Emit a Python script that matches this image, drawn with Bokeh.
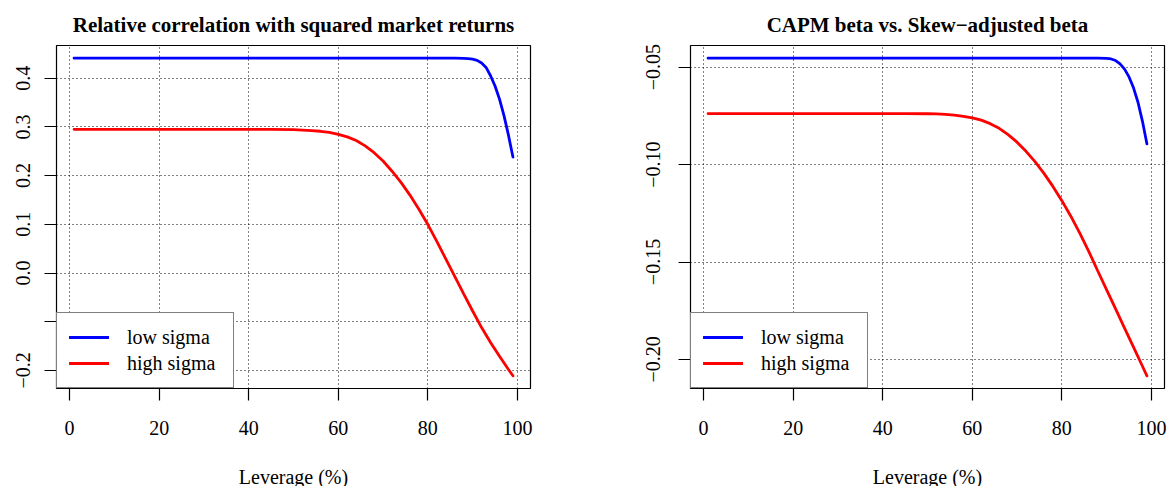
import math
from bokeh.plotting import figure
from bokeh.layouts import row
from bokeh.models import Legend, LegendItem, FixedTicker, Range1d
from bokeh.embed import file_html
from bokeh.resources import INLINE

# Leverage grid (%) and curve values for the two volatility regimes
lev_corr_low = [1, 20, 40, 60, 80, 86, 88, 89, 90, 91, 92, 93, 94, 95, 96, 97, 98, 99]
corr_low = [0.441, 0.441, 0.441, 0.441, 0.441, 0.441, 0.4408, 0.4402, 0.439, 0.4365,
            0.431, 0.422, 0.405, 0.384, 0.357, 0.323, 0.283, 0.238]

lev_corr_high = [1, 20, 40, 45, 50, 52, 54, 56, 58, 60, 62, 64, 66, 68, 70, 72, 74, 76,
                 78, 80, 82, 84, 86, 88, 90, 92, 94, 96, 98, 99]
corr_high = [0.295, 0.295, 0.295, 0.2948, 0.2942, 0.2935, 0.2925, 0.291, 0.2885, 0.2848,
             0.2795, 0.272, 0.261, 0.247, 0.230, 0.209, 0.186, 0.160, 0.131, 0.0995,
             0.065, 0.029, -0.007, -0.043, -0.078, -0.112, -0.1425, -0.171, -0.198, -0.211]

lev_beta_low = [1, 20, 40, 60, 80, 88, 90, 91, 92, 93, 94, 95, 96, 97, 98, 99]
beta_low = [-0.0454, -0.0454, -0.0454, -0.0454, -0.0454, -0.0454, -0.0455, -0.0458,
            -0.0466, -0.0483, -0.0510, -0.0550, -0.0606, -0.0680, -0.0778, -0.0894]

lev_beta_high = [1, 20, 40, 45, 50, 52, 54, 56, 58, 60, 62, 64, 66, 68, 70, 72, 74, 76,
                 78, 80, 82, 84, 86, 88, 90, 92, 94, 96, 98, 99]
beta_high = [-0.0738, -0.0738, -0.0738, -0.0738, -0.0739, -0.0740, -0.0742, -0.0746,
             -0.0752, -0.0760, -0.0772, -0.0790, -0.0814, -0.0846, -0.0885, -0.0932,
             -0.0985, -0.1045, -0.1112, -0.1185, -0.1265, -0.1352, -0.1445, -0.1545,
             -0.1643, -0.1741, -0.1839, -0.1937, -0.2035, -0.2084]

x_ticks = [0, 20, 40, 60, 80, 100]
corr_ticks = [-0.2, -0.1, 0.0, 0.1, 0.2, 0.3, 0.4]
corr_tick_labels = ["\u22120.2", "", "0.0", "0.1", "0.2", "0.3", "0.4"]
beta_ticks = [-0.20, -0.15, -0.10, -0.05]
beta_tick_labels = ["\u22120.20", "\u22120.15", "\u22120.10", "\u22120.05"]

SERIF = "Liberation Serif"


def padded(lo, hi, frac=0.04):
    span = hi - lo
    return lo - frac * span, hi + frac * span


def panel(title, xs_low, ys_low, xs_high, ys_high, yticks, ylabels,
          border_left, border_right, ylabel_standoff):
    xlo, xhi = padded(min(xs_low + xs_high), max(xs_low + xs_high))
    ylo, yhi = padded(min(ys_low + ys_high), max(ys_low + ys_high))
    p = figure(frame_width=474, frame_height=343,
               min_border_left=border_left, min_border_right=border_right,
               min_border_top=45, min_border_bottom=98,
               x_range=Range1d(xlo, xhi), y_range=Range1d(ylo, yhi),
               output_backend="svg", toolbar_location=None,
               background_fill_color="white", border_fill_color="white")
    p.outline_line_color = "black"
    p.outline_line_width = 1.2

    p.title.text = title
    p.title.align = "center"
    p.title.text_font = SERIF
    p.title.text_font_size = "21px"
    p.title.text_font_style = "bold"
    p.title.text_color = "black"
    p.title.standoff = 17

    xt = FixedTicker(ticks=x_ticks)
    yt = FixedTicker(ticks=yticks)
    p.xaxis.ticker = xt
    p.yaxis.ticker = yt
    p.xgrid.ticker = xt
    p.ygrid.ticker = yt
    p.yaxis.major_label_overrides = {t: s for t, s in zip(yticks, ylabels)}

    for ax in (p.xaxis[0], p.yaxis[0]):
        ax.axis_line_color = None
        ax.major_tick_out = 12
        ax.major_tick_in = 0
        ax.minor_tick_out = 0
        ax.minor_tick_in = 0
        ax.major_tick_line_color = "black"
        ax.major_tick_line_width = 1.2
        ax.major_label_text_font = SERIF
        ax.major_label_text_font_size = "20px"
        ax.major_label_text_color = "black"

    p.xaxis.major_label_standoff = 20
    p.xaxis.axis_label = "Leverage (%)"
    p.xaxis.axis_label_text_font = SERIF
    p.xaxis.axis_label_text_font_size = "20px"
    p.xaxis.axis_label_text_font_style = "normal"
    p.xaxis.axis_label_text_color = "black"
    p.xaxis.axis_label_standoff = 28
    p.yaxis.major_label_orientation = "vertical"
    p.yaxis.major_label_standoff = ylabel_standoff

    for g in (p.xgrid[0], p.ygrid[0]):
        g.grid_line_color = "black"
        g.grid_line_dash = "1 3"
        g.grid_line_width = 1

    r_low = p.line(xs_low, ys_low, line_color="#0000FF", line_width=2.8, line_cap="round")
    r_high = p.line(xs_high, ys_high, line_color="#FF0000", line_width=2.8, line_cap="round")

    legend = Legend(items=[LegendItem(label="low sigma", renderers=[r_low]),
                           LegendItem(label="high sigma", renderers=[r_high])],
                    location="bottom_left", margin=0, padding=12, spacing=2,
                    glyph_width=40, glyph_height=24, label_standoff=18, label_width=94,
                    label_text_font=SERIF, label_text_font_size="20px",
                    label_text_color="black",
                    border_line_color="black", border_line_width=1.2,
                    background_fill_color="white", background_fill_alpha=1.0)
    p.add_layout(legend)
    return p


left = panel("Relative correlation with squared market returns",
             lev_corr_low, corr_low, lev_corr_high, corr_high,
             corr_ticks, corr_tick_labels, 56, 55, 14)
right = panel("CAPM beta vs. Skew\u2212adjusted beta",
              lev_beta_low, beta_low, lev_beta_high, beta_high,
              beta_ticks, beta_tick_labels, 105, 6, 18)

layout = row(left, right, spacing=0)
open("out.html", "w").write(file_html(layout, INLINE))
